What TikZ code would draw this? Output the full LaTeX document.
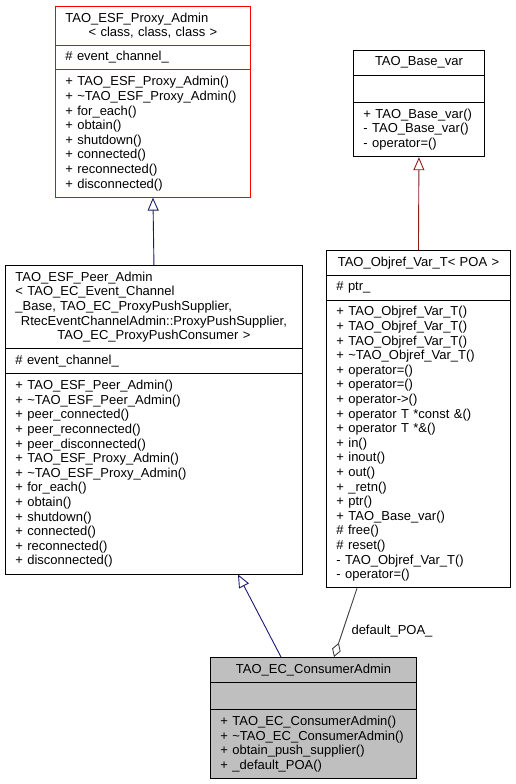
\documentclass[tikz,border=0pt]{standalone}
\usepackage{fontspec}
\setmainfont{Liberation Sans}
\usepackage{tikz}
\usetikzlibrary{shapes.multipart}
\usetikzlibrary{arrows.meta}
\definecolor{navyline}{HTML}{191970}
\definecolor{brickline}{HTML}{8B1A1A}
\definecolor{greyline}{HTML}{404040}
\definecolor{greyfill}{HTML}{BFBFBF}
\tikzset{
  umlclass/.style={rectangle split, rectangle split parts=3, draw, line width=0.9pt,
    anchor=north west, text width=#1, align=left, inner xsep=10pt, inner ysep=6pt,
    font=\fontsize{13}{14.6}\selectfont},
  inherit/.style={draw=#1, line width=0.9pt, -{Triangle[open,length=13pt,width=11pt]}},
  aggregate/.style={draw=greyline, line width=0.9pt, -{Diamond[open,length=15pt,width=9pt]}}
}

\begin{document}
\begin{tikzpicture}[x=1pt,y=1pt]
\useasboundingbox (0,0) rectangle (516,-784);

\node[umlclass=175pt, draw=red] (proxy) at (55,-6) {TAO\_ESF\_Proxy\_Admin\par{\centering < class, class, class >\par}
  \nodepart{second}\# event\_channel\_
  \nodepart{third}+ TAO\_ESF\_Proxy\_Admin()\\+ \textasciitilde TAO\_ESF\_Proxy\_Admin()\\+ for\_each()\\+ obtain()\\+ shutdown()\\+ connected()\\+ reconnected()\\+ disconnected()};

\node[umlclass=277pt] (peer) at (5,-265) {TAO\_ESF\_Peer\_Admin\\< TAO\_EC\_Event\_Channel\\\_Base, TAO\_EC\_ProxyPushSupplier,\par{\centering RtecEventChannelAdmin::ProxyPushSupplier,\\TAO\_EC\_ProxyPushConsumer >\par}
  \nodepart{second}\# event\_channel\_
  \nodepart{third}+ TAO\_ESF\_Peer\_Admin()\\+ \textasciitilde TAO\_ESF\_Peer\_Admin()\\+ peer\_connected()\\+ peer\_reconnected()\\+ peer\_disconnected()\\+ TAO\_ESF\_Proxy\_Admin()\\+ \textasciitilde TAO\_ESF\_Proxy\_Admin()\\+ for\_each()\\+ obtain()\\+ shutdown()\\+ connected()\\+ reconnected()\\+ disconnected()};

\node[umlclass=111pt] (basevar) at (353,-50) {{\centering TAO\_Base\_var\par}
  \nodepart{second}\strut
  \nodepart{third}+ TAO\_Base\_var()\\- TAO\_Base\_var()\\- operator=()};

\node[umlclass=164pt] (objref) at (326,-250) {{\centering TAO\_Objref\_Var\_T< POA >\par}
  \nodepart{second}\# ptr\_
  \nodepart{third}+ TAO\_Objref\_Var\_T()\\+ TAO\_Objref\_Var\_T()\\+ TAO\_Objref\_Var\_T()\\+ \textasciitilde TAO\_Objref\_Var\_T()\\+ operator=()\\+ operator=()\\+ operator->()\\+ operator T *const \&()\\+ operator T *\&()\\+ in()\\+ inout()\\+ out()\\+ \_retn()\\+ ptr()\\+ TAO\_Base\_var()\\\# free()\\\# reset()\\- TAO\_Objref\_Var\_T()\\- operator=()};

\node[umlclass=186pt, fill=greyfill] (consumer) at (210,-657) {{\centering TAO\_EC\_ConsumerAdmin\par}
  \nodepart{second}\strut
  \nodepart{third}+ TAO\_EC\_ConsumerAdmin()\\+ \textasciitilde TAO\_EC\_ConsumerAdmin()\\+ obtain\_push\_supplier()\\+ \_default\_POA()};

\draw[inherit=navyline] (peer.north)--(proxy.south);
\draw[inherit=brickline] (objref.north)--(basevar.south);
\draw[inherit=navyline] ([xshift=71pt]consumer.north west)--([xshift=233pt]peer.south west);
\draw[aggregate] ([xshift=31pt]objref.south west)--([xshift=124pt]consumer.north west)
  node[pos=0.62, anchor=west, xshift=5pt, font=\fontsize{13}{14}\selectfont] (poalabel) {default\_POA\_};
\end{tikzpicture}
\end{document}
